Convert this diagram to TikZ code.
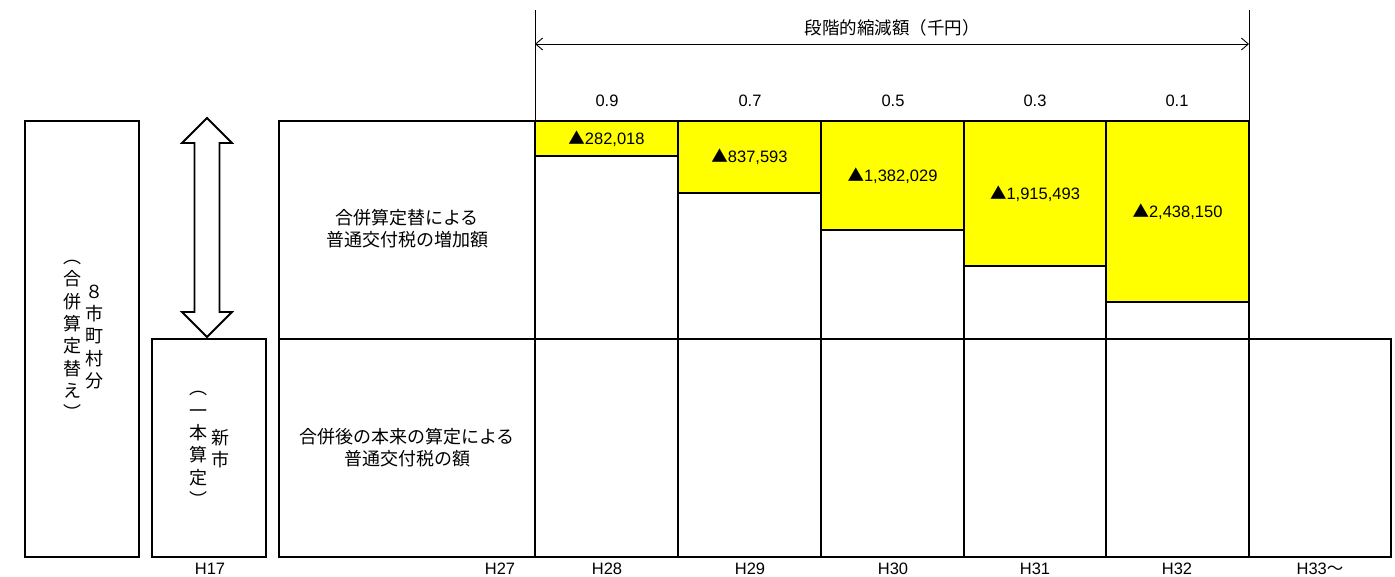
\documentclass[tikz,border=0pt]{standalone}
\usepackage{fontspec}
\setmainfont{Liberation Sans}
\newfontfamily\jp{Noto Sans CJK JP}
\usetikzlibrary{arrows.meta}
\definecolor{yel}{RGB}{255,255,0}
\begin{document}
\begin{tikzpicture}[x=1pt,y=-1pt,
  cell/.style={draw=black, line width=2.6pt, inner sep=0pt, outer sep=0pt, anchor=north west, fill=white},
  ycell/.style={cell, fill=yel},
  jptxt/.style={font=\jp\fontsize{18}{22}\selectfont, align=center, inner sep=0pt},
  vtxt/.style={font=\jp\fontsize{18}{22.3}\selectfont, align=center, inner sep=0pt},
  num/.style={font=\fontsize{16.5}{18}\selectfont, inner sep=0pt},
  yr/.style={font=\fontsize{16.5}{18}\selectfont, inner sep=0pt},
  dim/.style={line width=0.9pt},
]
\useasboundingbox (0,0) rectangle (1395,576);
\fill[white] (0,0) rectangle (1395,576);

% left boxes
\node[cell, minimum width=114pt, minimum height=436pt] (boxA) at (25,121) {};
\node[cell, minimum width=114pt, minimum height=218pt] (boxB) at (152,339) {};
\node[vtxt] (a1) at (72,340) {︵\\合\\併\\算\\定\\替\\え\\︶};
\node[vtxt] (a2) at (94,337) {８\\市\\町\\村\\分};
\node[vtxt] (b1) at (198,449) {︵\\一\\本\\算\\定\\︶};
\node[vtxt] (b2) at (220,449) {新\\市};

% double arrow
\draw[line width=1.8pt, fill=white] (207,118) -- (232,143) -- (219.5,143) -- (219.5,312) -- (232,312)
  -- (207,337) -- (182,312) -- (194.5,312) -- (194.5,143) -- (182,143) -- cycle;

% row label cells
\node[cell, minimum width=256pt, minimum height=218pt] (lab1) at (279,121) {};
\node[cell, minimum width=256pt, minimum height=218pt] (lab2) at (279,339) {};
\node[jptxt] at (407,229) {合併算定替による\\普通交付税の増加額};
\node[jptxt] at (407,448) {合併後の本来の算定による\\普通交付税の額};

% top row cells
\node[cell, minimum width=143pt, minimum height=218pt] (t28) at (535,121) {};
\node[cell, minimum width=143pt, minimum height=218pt] (t29) at (678,121) {};
\node[cell, minimum width=143pt, minimum height=218pt] (t30) at (821,121) {};
\node[cell, minimum width=142pt, minimum height=218pt] (t31) at (964,121) {};
\node[cell, minimum width=143pt, minimum height=218pt] (t32) at (1106,121) {};

% yellow reductions
\node[ycell, minimum width=143pt, minimum height=35pt] (y28) at (535,121) {};
\node[ycell, minimum width=143pt, minimum height=72pt] (y29) at (678,121) {};
\node[ycell, minimum width=143pt, minimum height=109pt] (y30) at (821,121) {};
\node[ycell, minimum width=142pt, minimum height=145pt] (y31) at (964,121) {};
\node[ycell, minimum width=143pt, minimum height=181pt] (y32) at (1106,121) {};
\node[num] at (y28.center) {{\jp ▲}282,018};
\node[num] at (y29.center) {{\jp ▲}837,593};
\node[num] at (y30.center) {{\jp ▲}1,382,029};
\node[num] at (y31.center) {{\jp ▲}1,915,493};
\node[num] at (y32.center) {{\jp ▲}2,438,150};

% bottom row cells
\node[cell, minimum width=143pt, minimum height=218pt] (b28) at (535,339) {};
\node[cell, minimum width=143pt, minimum height=218pt] (b29) at (678,339) {};
\node[cell, minimum width=143pt, minimum height=218pt] (b30) at (821,339) {};
\node[cell, minimum width=142pt, minimum height=218pt] (b31) at (964,339) {};
\node[cell, minimum width=143pt, minimum height=218pt] (b32) at (1106,339) {};
\node[cell, minimum width=142pt, minimum height=218pt] (b33) at (1249,339) {};

% dimension lines
\coordinate (dl) at (535,44);
\coordinate (dr) at (1249,44);
\coordinate (tl) at (535,10);
\coordinate (tr) at (1249,10);
\draw[dim] (tl) -- (y28.north west);
\draw[dim] (tr) -- (y32.north east);
\draw[dim, {Straight Barb[length=7pt,width=12pt]}-{Straight Barb[length=7pt,width=12pt]}] (dl) -- (dr);
\node[font=\jp\fontsize{17.5}{22}\selectfont, inner sep=0pt] (title) at (892,28) {段階的縮減額（千円）};

% rates
\node[num] at (607,101) {0.9};
\node[num] at (750,101) {0.7};
\node[num] at (893,101) {0.5};
\node[num] at (1035,101) {0.3};
\node[num] at (1177,101) {0.1};

% years
\node[yr] at (210,569) {H17};
\node[yr] at (500,569) {H27};
\node[yr] at (607,569) {H28};
\node[yr] at (750,569) {H29};
\node[yr] at (893,569) {H30};
\node[yr] at (1035,569) {H31};
\node[yr] at (1177,569) {H32};
\node[yr] at (1320,569) {H33{\jp ～}};
\end{tikzpicture}
\end{document}
